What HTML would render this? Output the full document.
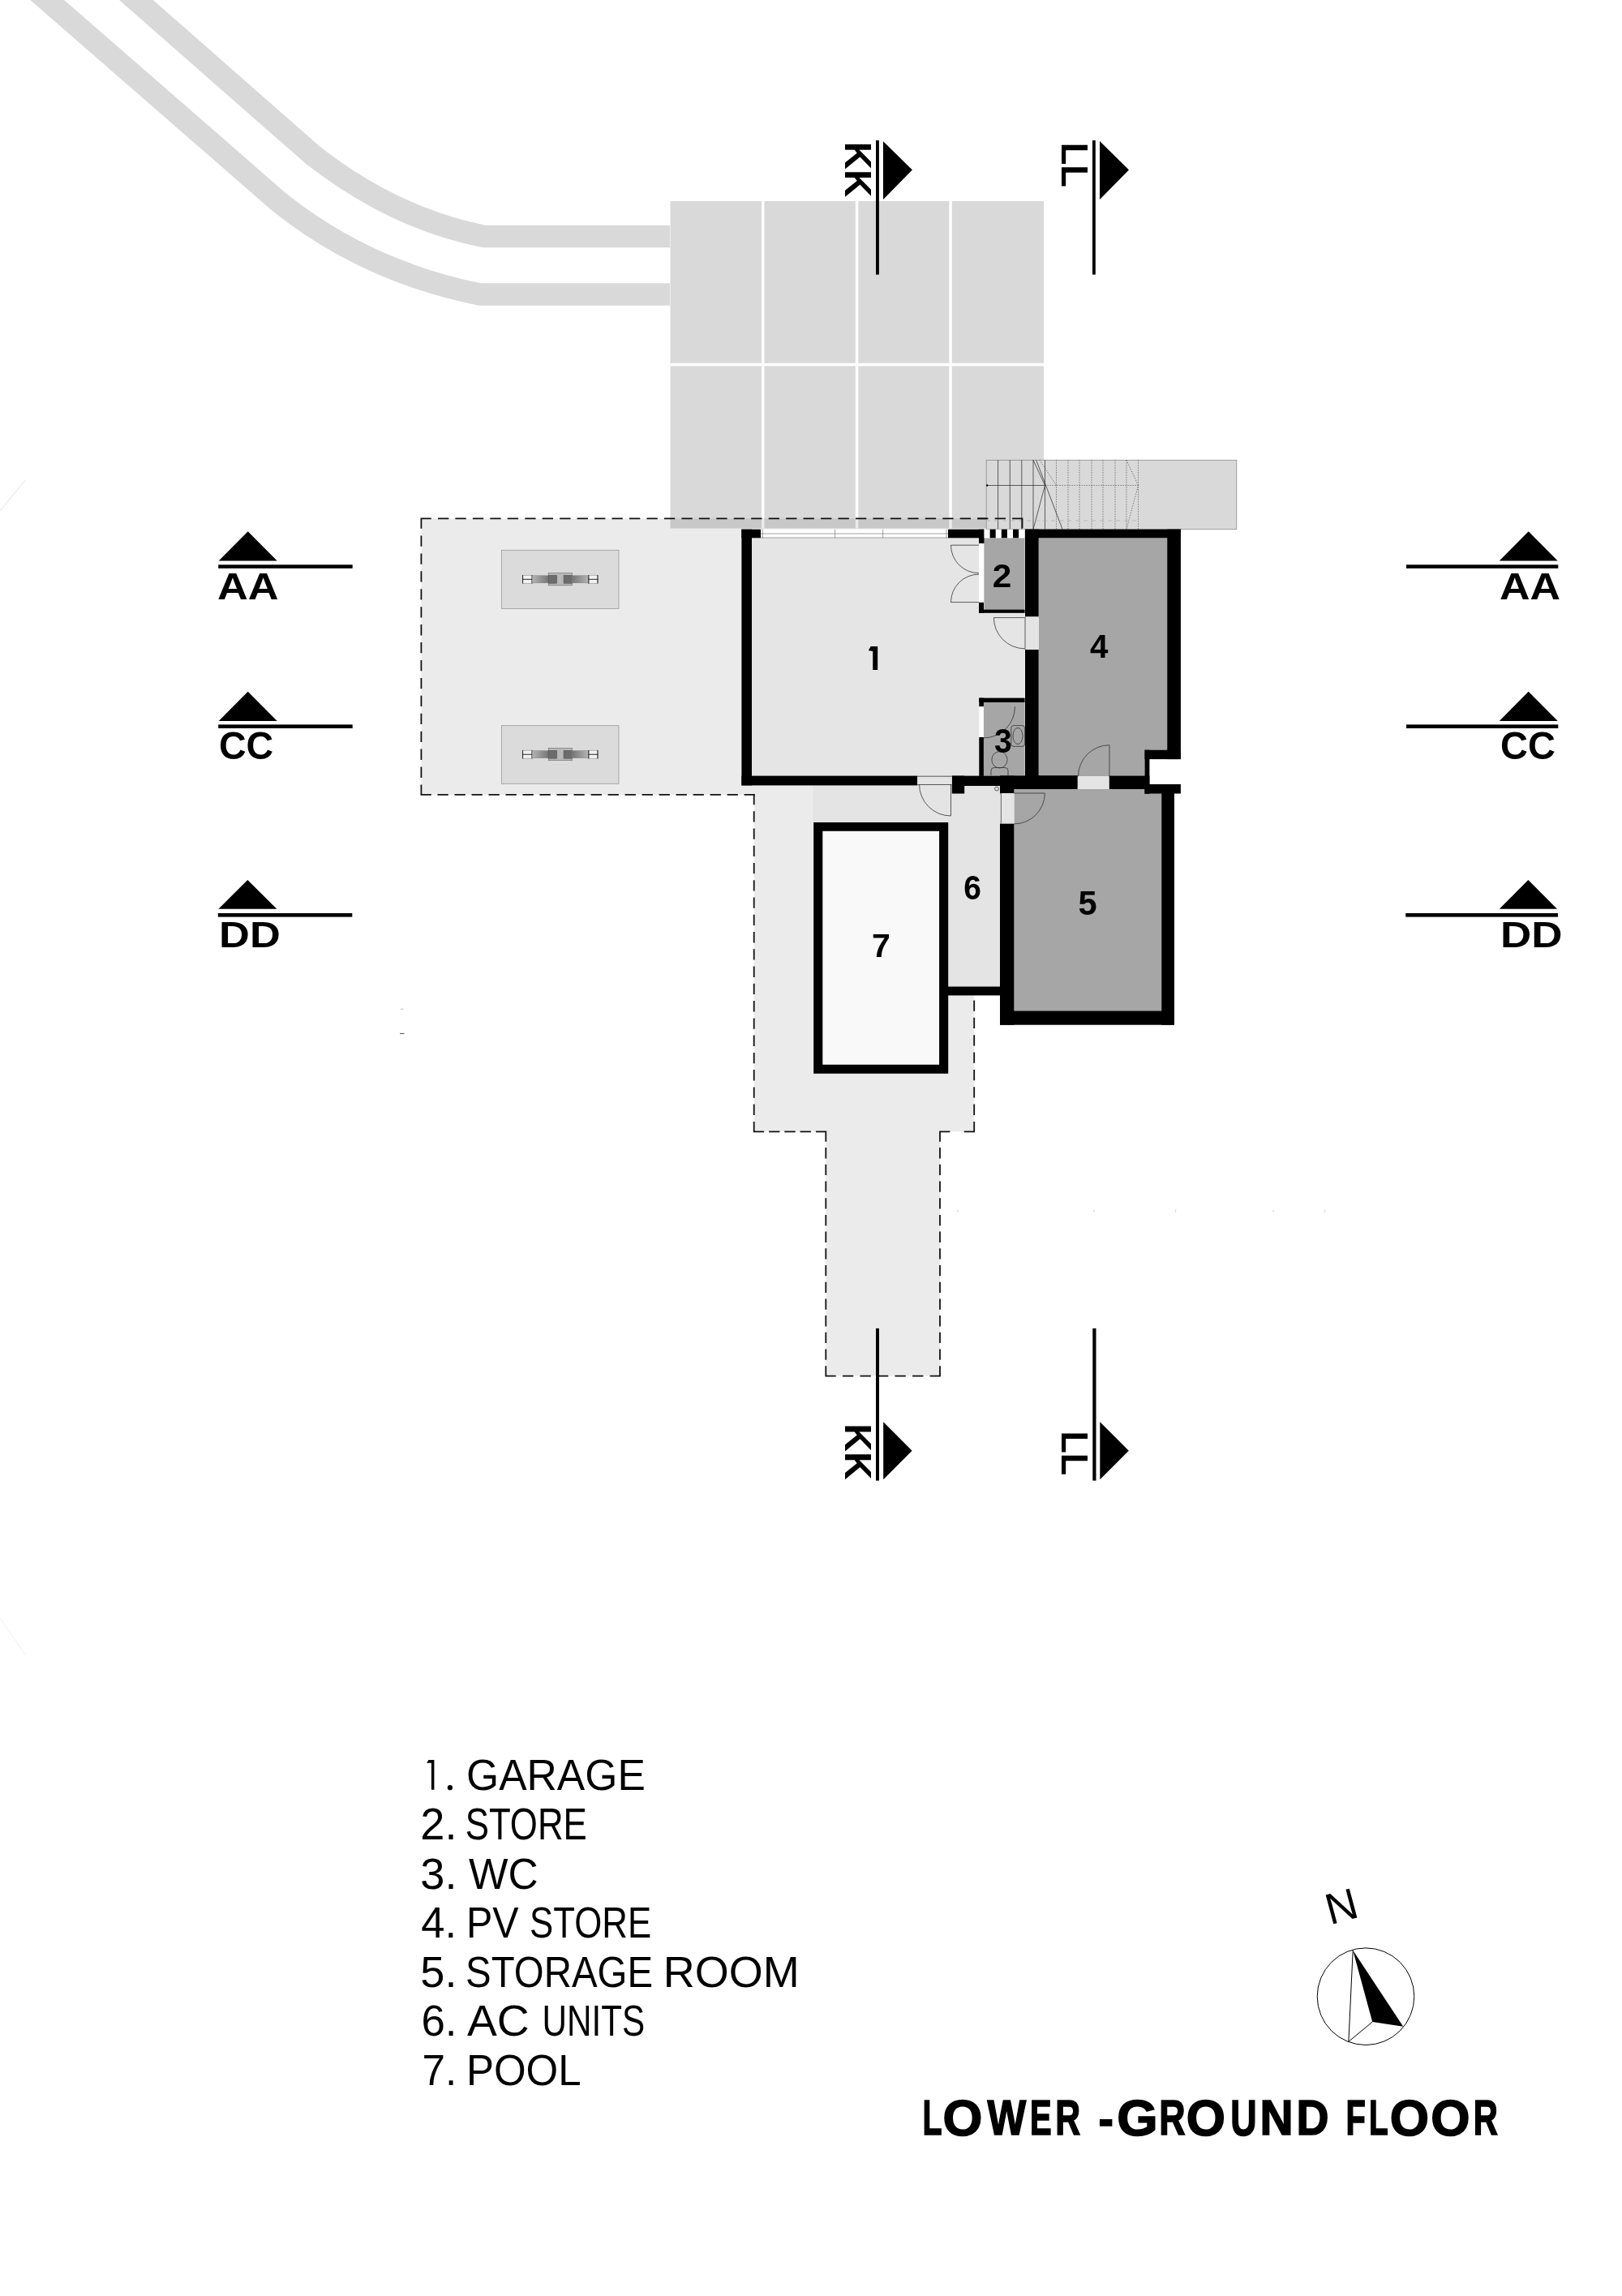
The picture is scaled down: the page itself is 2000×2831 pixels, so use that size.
<!DOCTYPE html>
<html><head><meta charset="utf-8"><style>
html,body{margin:0;padding:0;background:#fff;}
body{width:2000px;height:2831px;overflow:hidden;}
svg{display:block;}
text{font-family:"Liberation Sans",sans-serif;}
</style></head>
<body>
<svg width="2000" height="2831" viewBox="0 0 2000 2831">
<rect x="0" y="0" width="2000" height="2831" fill="#fff"/>

<!-- driveway bands -->
<g fill="none" stroke="#d9d9d9" stroke-width="27.5">
<path d="M128,-35 L386,191.5 Q485.7,269.3 597,291.5 L826,291.5"/>
<path d="M18,-35 L344,249 Q451.3,334.8 592,363 L826,363"/>
</g>

<!-- grid block -->
<rect x="826.5" y="248" width="460.5" height="403.5" fill="#d9d9d9"/>
<g fill="#fff">
<rect x="939" y="248" width="3.5" height="403.5"/>
<rect x="1054.8" y="248" width="3.5" height="403.5"/>
<rect x="1170.3" y="248" width="3.5" height="403.5"/>
<rect x="826.5" y="447.8" width="460.5" height="3.5"/>
</g>

<!-- paved dashed area fill -->
<g fill="#ebebeb" style="mix-blend-mode:multiply">
<rect x="519.4" y="639.4" width="740.6" height="340.5"/>
</g>
<g fill="#ebebeb">
<rect x="930" y="979" width="271.2" height="416.3"/>
<rect x="1018.3" y="1395" width="140.7" height="301.6"/>
</g>
<!-- darker terrace -->
<rect x="1002.5" y="968" width="231" height="46" fill="#e4e4e4"/>
<rect x="1169" y="968" width="64" height="250" fill="#e4e4e4"/>

<!-- dashed outlines -->
<path fill="none" stroke="#111" stroke-width="1.8" stroke-linecap="square" d="M1260.5,639.4H1249.0M1239.0,639.4H1227.5M1217.6,639.4H1206.1M1196.1,639.4H1184.6M1174.7,639.4H1163.2M1153.2,639.4H1141.7M1131.7,639.4H1120.2M1110.3,639.4H1098.8M1088.8,639.4H1077.3M1067.4,639.4H1055.9M1045.9,639.4H1034.4M1024.5,639.4H1013.0M1003.0,639.4H991.5M981.5,639.4H970.0M960.1,639.4H948.6M938.6,639.4H927.1M917.2,639.4H905.7M895.7,639.4H884.2M874.2,639.4H862.7M852.8,639.4H841.3M831.3,639.4H819.8M809.9,639.4H798.4M788.4,639.4H776.9M766.9,639.4H755.4M745.5,639.4H734.0M724.0,639.4H712.5M702.6,639.4H691.1M681.1,639.4H669.6M659.7,639.4H648.2M638.2,639.4H626.7M616.7,639.4H605.2M595.3,639.4H583.8M573.8,639.4H562.3M552.4,639.4H540.9M530.9,639.4H519.4M519.4,639.4V650.9M519.4,661.3V672.8M519.4,683.3V694.8M519.4,705.2V716.7M519.4,727.1V738.6M519.4,749.1V760.6M519.4,771.0V782.5M519.4,792.9V804.4M519.4,814.9V826.4M519.4,836.8V848.3M519.4,858.7V870.2M519.4,880.7V892.2M519.4,902.6V914.1M519.4,924.5V936.0M519.4,946.5V958.0M519.4,968.4V979.9M519.4,979.9H530.9M540.4,979.9H551.9M561.4,979.9H572.9M582.4,979.9H593.9M603.4,979.9H614.9M624.4,979.9H635.9M645.4,979.9H656.9M666.4,979.9H677.9M687.4,979.9H698.9M708.4,979.9H719.9M729.5,979.9H741.0M750.5,979.9H762.0M771.5,979.9H783.0M792.5,979.9H804.0M813.5,979.9H825.0M834.5,979.9H846.0M855.5,979.9H867.0M876.5,979.9H888.0M897.5,979.9H909.0M918.5,979.9H930.0M929.7,979.9V991.4M929.7,1001.2V1012.7M929.7,1022.4V1033.9M929.7,1043.7V1055.2M929.7,1064.9V1076.4M929.7,1086.2V1097.7M929.7,1107.4V1118.9M929.7,1128.7V1140.2M929.7,1150.0V1161.5M929.7,1171.2V1182.7M929.7,1192.5V1204.0M929.7,1213.7V1225.2M929.7,1235.0V1246.5M929.7,1256.3V1267.8M929.7,1277.5V1289.0M929.7,1298.8V1310.3M929.7,1320.0V1331.5M929.7,1341.3V1352.8M929.7,1362.5V1374.0M929.7,1383.8V1395.3M929.7,1395.3H941.2M949.0,1395.3H960.5M968.2,1395.3H979.8M987.5,1395.3H999.0M1006.8,1395.3H1018.3M1018.3,1395.3V1406.8M1018.3,1416.0V1427.5M1018.3,1436.7V1448.2M1018.3,1457.4V1468.9M1018.3,1478.1V1489.6M1018.3,1498.8V1510.3M1018.3,1519.5V1531.0M1018.3,1540.2V1551.7M1018.3,1560.9V1572.4M1018.3,1581.6V1593.1M1018.3,1602.3V1613.8M1018.3,1623.0V1634.5M1018.3,1643.7V1655.2M1018.3,1664.4V1675.9M1018.3,1685.1V1696.6M1018.3,1696.6H1029.8M1039.8,1696.6H1051.3M1061.4,1696.6H1072.9M1082.9,1696.6H1094.4M1104.4,1696.6H1115.9M1126.0,1696.6H1137.5M1147.5,1696.6H1159.0M1159,1696.6V1685.1M1159,1675.9V1664.4M1159,1655.2V1643.7M1159,1634.5V1623.0M1159,1613.8V1602.3M1159,1593.1V1581.6M1159,1572.4V1560.9M1159,1551.7V1540.2M1159,1531.0V1519.5M1159,1510.3V1498.8M1159,1489.6V1478.1M1159,1468.9V1457.4M1159,1448.2V1436.7M1159,1427.5V1416.0M1159,1406.8V1395.3M1159.0,1395.3H1170.5M1189.7,1395.3H1201.2M1201.2,1395.3V1383.8M1201.2,1374.0V1362.5M1201.2,1352.6V1341.1M1201.2,1331.3V1319.8M1201.2,1309.9V1298.4M1201.2,1288.6V1277.1M1201.2,1267.2V1255.7M1201.2,1245.9V1234.4"/>

<!-- cars -->
<g id="car1">
<rect x="618.5" y="678.3" width="144.5" height="72.1" fill="#dbdbdb" stroke="#9a9a9a" stroke-width="0.8"/>
</g>
<rect x="618.5" y="894.7" width="144.5" height="71.6" fill="#dbdbdb" stroke="#9a9a9a" stroke-width="0.8"/>
<defs><linearGradient id="gl" x1="0" x2="1"><stop offset="0" stop-color="#b4b4b4"/><stop offset="1" stop-color="#767676"/></linearGradient><linearGradient id="gr" x1="0" x2="1"><stop offset="0" stop-color="#767676"/><stop offset="1" stop-color="#b4b4b4"/></linearGradient></defs>
<g>
<rect x="644.3" y="709.3" width="11.9" height="10" fill="#f2f2f2" stroke="#9a9a9a" stroke-width="0.7"/>
<path d="M644.6,709.0999999999999V719.5M656,709.0999999999999V719.5M644.3,714.3H656.2" stroke="#111" stroke-width="0.9"/>
<rect x="656.2" y="709.8" width="20" height="9" fill="url(#gl)" stroke="#808080" stroke-width="0.5"/>
<rect x="676.2" y="706.5999999999999" width="29.1" height="15.2" fill="#b9b9b9" stroke="#6a6a6a" stroke-width="0.6"/>
<rect x="676.2" y="709.3" width="10.5" height="10" fill="#6c6c6c" stroke="#444" stroke-width="0.4"/>
<rect x="695" y="709.3" width="10.3" height="10" fill="#6c6c6c" stroke="#444" stroke-width="0.4"/>
<rect x="705.3" y="709.8" width="20.3" height="9" fill="url(#gr)" stroke="#808080" stroke-width="0.5"/>
<rect x="725.6" y="709.3" width="11.6" height="10" fill="#f2f2f2" stroke="#9a9a9a" stroke-width="0.7"/>
<path d="M725.9,709.0999999999999V719.5M736.9,709.0999999999999V719.5M725.6,714.3H737.2" stroke="#111" stroke-width="0.9"/>
</g>
<g>
<rect x="644.3" y="925.2" width="11.9" height="10" fill="#f2f2f2" stroke="#9a9a9a" stroke-width="0.7"/>
<path d="M644.6,925.0V935.4000000000001M656,925.0V935.4000000000001M644.3,930.2H656.2" stroke="#111" stroke-width="0.9"/>
<rect x="656.2" y="925.7" width="20" height="9" fill="url(#gl)" stroke="#808080" stroke-width="0.5"/>
<rect x="676.2" y="922.5" width="29.1" height="15.2" fill="#b9b9b9" stroke="#6a6a6a" stroke-width="0.6"/>
<rect x="676.2" y="925.2" width="10.5" height="10" fill="#6c6c6c" stroke="#444" stroke-width="0.4"/>
<rect x="695" y="925.2" width="10.3" height="10" fill="#6c6c6c" stroke="#444" stroke-width="0.4"/>
<rect x="705.3" y="925.7" width="20.3" height="9" fill="url(#gr)" stroke="#808080" stroke-width="0.5"/>
<rect x="725.6" y="925.2" width="11.6" height="10" fill="#f2f2f2" stroke="#9a9a9a" stroke-width="0.7"/>
<path d="M725.9,925.0V935.4000000000001M736.9,925.0V935.4000000000001M725.6,930.2H737.2" stroke="#111" stroke-width="0.9"/>
</g>

<!-- stairs -->
<g>
<rect x="1216.2" y="567.3" width="308.6" height="85.2" fill="#d9d9d9" stroke="#8a8a8a" stroke-width="0.8"/>
<g stroke="#222" stroke-width="0.7" fill="none">
<path d="M1230.6,567.3 V652.5 M1245.3,567.3 V652.5 M1259.8,567.3 V652.5 M1274,567.3 V652.5 M1288.5,567.3 V652.5 M1216.2,598.5 H1288.5"/>
<path d="M1274,567.3 L1288.5,598.5 L1274,652.5 M1277.7,567.3 L1310,652.5"/>
</g>
<circle cx="1217.2" cy="598.5" r="1.2" fill="#000"/>
<g stroke="#333" stroke-width="0.7" fill="none" stroke-dasharray="1.2 1.8">
<path d="M1302.5,567.3 V652.5 M1317,567.3 V652.5 M1331,567.3 V652.5 M1346,567.3 V652.5 M1360,567.3 V652.5 M1375,567.3 V652.5 M1389,567.3 V652.5 M1403.5,567.3 V652.5 M1288.5,598.5 H1403.5"/>
<path d="M1282,567.3 L1302.5,598.5 M1389,567.3 L1403.5,598.5 L1389,652.5"/>
</g>
<path d="M1216.2,642 H1403.5" stroke="#b0b0b0" stroke-width="0.8" stroke-dasharray="5 5" fill="none"/>
</g>

<path fill="none" stroke="#111" stroke-width="1.8" stroke-linecap="square" d="M1206.1,639.4H1217.6M1227.6,639.4H1239.1M1249,639.4H1260.5V650.5"/>
<path d="M493,1274.4H498.5" stroke="#333" stroke-width="0.9"/>
<path d="M494,1244.3H497" stroke="#aaa" stroke-width="0.8"/>
<path d="M1181,1492V1495M1349,1492V1495M1449.7,1491V1495M1570,1492V1495M1633.7,1491V1495" stroke="#c8c8c8" stroke-width="0.8"/>
<!-- BUILDING -->
<!-- room fills -->
<rect x="927" y="663.3" width="336.6" height="293.3" fill="#e5e5e5"/>
<rect x="1213.5" y="663.3" width="50.1" height="88.3" fill="#a6a6a6"/>
<rect x="1212.9" y="866" width="50.7" height="90.6" fill="#a6a6a6"/>
<path d="M1280.7,663.3 H1439.2 V924.7 H1411.5 V957.2 H1280.7 Z" fill="#a6a6a6"/>
<rect x="1250.4" y="973" width="181.8" height="273.4" fill="#a6a6a6"/>
<rect x="1014.3" y="1024.7" width="143.8" height="288" fill="#f9f9f9"/>

<!-- walls -->
<g fill="#000">
<!-- garage -->
<rect x="914.4" y="652.7" width="12.6" height="315.7"/>
<rect x="914.4" y="652.7" width="23.8" height="10.6"/>
<rect x="1169" y="652.7" width="44.5" height="10.6"/>
<rect x="1207" y="652.7" width="6.5" height="17.3"/>
<rect x="914.4" y="956.6" width="216.8" height="11.8"/>
<!-- room 2 -->
<rect x="1207" y="742.6" width="6" height="13.2"/>
<rect x="1207" y="751.6" width="56.6" height="4.2"/>
<!-- wc -->
<rect x="1207.3" y="860.6" width="56.3" height="5.4"/>
<rect x="1207.3" y="860.6" width="5.6" height="10.7"/>
<rect x="1207.3" y="908.9" width="5.6" height="48"/>
<!-- room 4 -->
<rect x="1263.6" y="652.7" width="192.3" height="10.6"/>
<rect x="1264" y="652.7" width="16.7" height="107.8"/>
<rect x="1264" y="801" width="16.7" height="172"/>
<rect x="1439.2" y="652.7" width="16.7" height="283.4"/>
<rect x="1411.5" y="924.7" width="44.4" height="11.4"/>
<rect x="1411.5" y="924.7" width="5.9" height="54"/>
<!-- wall between 4/5 -->
<rect x="1173.8" y="956.6" width="155" height="12.4"/>
<rect x="1367.5" y="956.6" width="49.9" height="16.4"/>
<rect x="1280.7" y="956.6" width="48" height="16.4"/>
<rect x="1173.8" y="956.6" width="15.4" height="21.9"/>
<rect x="1233" y="956.6" width="17.4" height="21.6"/>
<rect x="1233" y="956.6" width="95.7" height="16.4"/>
<rect x="1411.5" y="967" width="44.4" height="11.5"/>
<!-- room 5 -->
<rect x="1233" y="1015.4" width="17.4" height="248.3"/>
<rect x="1432.2" y="967" width="15.8" height="296.7"/>
<rect x="1233" y="1246.4" width="214.7" height="17.3"/>
<!-- room 6 bottom -->
<rect x="1169" y="1216.5" width="64" height="10.9"/>
<!-- pool -->
<path d="M1003.2,1014 H1169.2 V1323.8 H1003.2 Z M1014.3,1024.7 V1312.7 H1158.1 V1024.7 Z" fill-rule="evenodd"/>
</g>

<!-- window -->
<rect x="938.2" y="652.7" width="230.8" height="10.6" fill="#fff"/>
<g stroke="#777" stroke-width="0.7" fill="none">
<path d="M938.2,658 H1169 M938.2,663 H1169 M940.3,652.7 V663.3 M1029.6,652.7 V663.3 M1088.6,652.7 V663.3 M1167,652.7 V663.3"/>
</g>
<!-- checker -->
<rect x="1213.5" y="652.7" width="50.1" height="10.6" fill="#fff"/>
<g fill="#000">
<rect x="1220.6" y="652.7" width="7.1" height="10.6"/>
<rect x="1234.8" y="652.7" width="7.1" height="10.6"/>
<rect x="1249" y="652.7" width="7.1" height="10.6"/>
</g>
<!-- room2 left opening -->
<rect x="1207" y="670" width="6" height="72.6" fill="#fff"/>
<rect x="1207.3" y="871.3" width="5.6" height="37.6" fill="#fff"/>

<!-- door openings -->
<rect x="1264" y="760.5" width="16.7" height="40.5" fill="#e4e4e4"/>
<rect x="1131.2" y="956.6" width="42.6" height="11.8" fill="#e4e4e4"/>
<rect x="1328.7" y="957.2" width="38.8" height="15.8" fill="#e4e4e4"/>
<rect x="1234" y="978" width="16.4" height="37.4" fill="#e4e4e4"/>
<g stroke="#333" stroke-width="0.8" fill="none">
<path d="M1172.5,672.2 H1207 M1172.5,672.2 A34.5,34.5 0 0 0 1207,706.7"/>
<path d="M1172.5,742.6 H1207 M1172.5,742.6 A34.5,34.5 0 0 1 1207,708.1"/>
<path d="M1225.4,761.6 H1263.6 M1225.4,761.6 A38.2,38.2 0 0 0 1263.6,799.8 M1264,760.5 V801"/>
<path d="M1251.5,871.3 A38.6,38.6 0 0 1 1212.9,909.9"/>
<path d="M1368,918.7 V957.2 M1329.5,957.2 A38.5,38.5 0 0 1 1368,918.7"/>
<path d="M1172.5,967 V1006 M1133.5,967 A39,39 0 0 0 1172.5,1006 M1131.2,957.2 H1173.8 M1131.2,967.5 H1173.8"/>
<path d="M1250.4,978 H1288.3 A37.9,37.9 0 0 1 1250.4,1015.9 M1234.3,978 V1015.4"/>
<circle cx="1229" cy="972.6" r="2.4"/>
<rect x="1246.8" y="894.6" width="16.8" height="25.7" rx="3"/>
<ellipse cx="1255" cy="907.5" rx="6" ry="10"/>
<ellipse cx="1232.5" cy="936.8" rx="9.6" ry="10.2"/>
<path d="M1222,956 V950 Q1222,946.5 1226,946.5 H1239 Q1243,946.5 1243,950 V956"/>
</g>
<path d="M0,630 L31,592" stroke="#ececec" stroke-width="1.2"/>
<path d="M0,1995 L31,2040" stroke="#ededed" stroke-width="0.8"/>
<path d="M1073.69,797.03 H1082.17 V825.98 H1076.25 V802.95 L1070.83,801.96 Z" fill="#000"/>
<g fill="#000">
<text x="1223.80" y="723.90" font-size="41.06" font-weight="bold" textLength="23.61" lengthAdjust="spacingAndGlyphs">2</text>
<text x="1226.00" y="927.50" font-size="43.06" font-weight="bold" textLength="21.80" lengthAdjust="spacingAndGlyphs">3</text>
<text x="1344.00" y="810.50" font-size="41.46" font-weight="bold" textLength="22.39" lengthAdjust="spacingAndGlyphs">4</text>
<text x="1329.60" y="1127.90" font-size="42.04" font-weight="bold" textLength="23.15" lengthAdjust="spacingAndGlyphs">5</text>
<text x="1188.20" y="1108.60" font-size="41.59" font-weight="bold" textLength="21.66" lengthAdjust="spacingAndGlyphs">6</text>
<text x="1075.00" y="1180.10" font-size="41.06" font-weight="bold" textLength="22.85" lengthAdjust="spacingAndGlyphs">7</text>
</g>
<!-- section markers -->
<g fill="#000">
<!-- left -->
<path d="M305.7,655.3 L341.7,691.5 H269.7 Z"/>
<rect x="269.2" y="696.3" width="165.5" height="4.5"/>
<path d="M305.7,852.7 L341.7,888.9 H269.7 Z"/>
<rect x="269.2" y="893.4" width="165.5" height="4.6"/>
<path d="M305.3,1085 L341.3,1120.8 H269.4 Z"/>
<rect x="268.8" y="1126" width="165.5" height="4.6"/>
<!-- right -->
<path d="M1884.7,655.3 L1920.7,691.5 H1848.8 Z"/>
<rect x="1734" y="696.3" width="187.3" height="4.5"/>
<path d="M1884.7,852.7 L1920.7,888.9 H1848.8 Z"/>
<rect x="1734" y="893.4" width="187.3" height="4.6"/>
<path d="M1884.4,1085 L1920,1120.8 H1848.8 Z"/>
<rect x="1733.2" y="1126" width="187.8" height="4.6"/>
<!-- KK / LL top -->
<rect x="1080" y="173.1" width="3.9" height="165.5"/>
<path d="M1089,174.2 L1124.9,209.6 L1089,245.9 Z"/>
<rect x="1347" y="173.1" width="3.8" height="165.5"/>
<path d="M1356,174 L1392,209.6 L1356,245.9 Z"/>
<!-- KK / LL bottom -->
<rect x="1080" y="1637.9" width="4" height="187.7"/>
<path d="M1089.2,1753.3 L1124.6,1788.7 L1089.2,1824.2 Z"/>
<rect x="1347.3" y="1637.9" width="4.2" height="187.7"/>
<path d="M1356.3,1753.3 L1391.8,1788.7 L1356.3,1824.2 Z"/>
</g>
<g fill="#000">
<text x="267.90" y="738.90" font-size="46.51" font-weight="bold" textLength="75.55" lengthAdjust="spacingAndGlyphs">AA</text>
<text x="269.90" y="936.40" font-size="48.99" font-weight="bold" textLength="67.22" lengthAdjust="spacingAndGlyphs">CC</text>
<text x="270.10" y="1167.70" font-size="44.95" font-weight="bold" textLength="75.61" lengthAdjust="spacingAndGlyphs">DD</text>
<text x="1849.00" y="738.90" font-size="46.51" font-weight="bold" textLength="75.13" lengthAdjust="spacingAndGlyphs">AA</text>
<text x="1850.00" y="936.40" font-size="48.99" font-weight="bold" textLength="67.85" lengthAdjust="spacingAndGlyphs">CC</text>
<text x="1850.00" y="1167.70" font-size="44.95" font-weight="bold" textLength="76.48" lengthAdjust="spacingAndGlyphs">DD</text>
<text transform="translate(1042.00,174.70) rotate(90)" font-size="46.51" font-weight="bold" textLength="68.40" lengthAdjust="spacingAndGlyphs">KK</text>
<text transform="translate(1309.00,175.70) rotate(90)" font-size="46.51" font-weight="bold" textLength="55.14" lengthAdjust="spacingAndGlyphs">LL</text>
<text transform="translate(1042.00,1755.20) rotate(90)" font-size="46.51" font-weight="bold" textLength="69.40" lengthAdjust="spacingAndGlyphs">KK</text>
<text transform="translate(1309.40,1764.40) rotate(90)" font-size="45.95" font-weight="bold" textLength="54.61" lengthAdjust="spacingAndGlyphs">LL</text>
</g>

<path d="M528.5,2170.1 H535.4 V2206.8 H531.9 V2173.8 H526.1 Z" fill="#000"/>
<circle cx="554.9" cy="2204.2" r="3.1" fill="#000"/>
<!-- legend -->
<g fill="#000">
<text x="575.00" y="2207.00" font-size="53.36" textLength="220.81" lengthAdjust="spacingAndGlyphs">GARAGE</text>
<text x="518.30" y="2267.70" font-size="55.11" textLength="45.14" lengthAdjust="spacingAndGlyphs">2.</text>
<text x="573.70" y="2267.70" font-size="55.11" textLength="150.11" lengthAdjust="spacingAndGlyphs">STORE</text>
<text x="518.30" y="2328.90" font-size="54.53" textLength="45.14" lengthAdjust="spacingAndGlyphs">3.</text>
<text x="578.00" y="2328.90" font-size="54.53" textLength="85.57" lengthAdjust="spacingAndGlyphs">WC</text>
<text x="519.30" y="2389.30" font-size="53.66" textLength="43.73" lengthAdjust="spacingAndGlyphs">4.</text>
<text x="574.90" y="2389.30" font-size="53.66" textLength="64.62" lengthAdjust="spacingAndGlyphs">PV</text>
<text x="653.00" y="2389.30" font-size="53.70" textLength="150.11" lengthAdjust="spacingAndGlyphs">STORE</text>
<text x="518.30" y="2449.50" font-size="52.77" textLength="45.14" lengthAdjust="spacingAndGlyphs">5.</text>
<text x="574.00" y="2449.50" font-size="52.77" textLength="231.07" lengthAdjust="spacingAndGlyphs">STORAGE</text>
<text x="817.70" y="2449.50" font-size="52.77" textLength="168.06" lengthAdjust="spacingAndGlyphs">ROOM</text>
<text x="519.40" y="2510.40" font-size="54.38" textLength="44.08" lengthAdjust="spacingAndGlyphs">6.</text>
<text x="575.90" y="2510.40" font-size="54.38" textLength="76.73" lengthAdjust="spacingAndGlyphs">AC</text>
<text x="668.60" y="2510.40" font-size="54.38" textLength="126.64" lengthAdjust="spacingAndGlyphs">UNITS</text>
<text x="520.60" y="2571.30" font-size="52.77" textLength="42.63" lengthAdjust="spacingAndGlyphs">7.</text>
<text x="574.90" y="2571.30" font-size="52.77" textLength="141.76" lengthAdjust="spacingAndGlyphs">POOL</text>
</g>

<!-- north arrow -->
<circle cx="1684" cy="2461.7" r="59.8" fill="none" stroke="#000" stroke-width="1"/>
<path d="M1668.2,2404.8 L1692.2,2493 L1730.2,2498.8 Z" fill="#000"/>
<path d="M1668.2,2404.8 L1662.9,2517.3 L1692.2,2493" fill="none" stroke="#000" stroke-width="1"/>
<text transform="translate(1640,2373.5) rotate(-15)" font-size="54" fill="#000">N</text>

<!-- title -->
<g fill="#000">
<text x="1137.40" y="2632.20" font-size="60.99" font-weight="bold" stroke="#000" stroke-width="1.6" stroke-linejoin="miter" textLength="24.05" lengthAdjust="spacingAndGlyphs">L</text>
<text x="1162.50" y="2633.20" font-size="62.63" font-weight="bold" stroke="#000" stroke-width="1.6" stroke-linejoin="miter" textLength="48.86" lengthAdjust="spacingAndGlyphs">O</text>
<text x="1217.50" y="2632.20" font-size="60.99" font-weight="bold" stroke="#000" stroke-width="1.6" stroke-linejoin="miter" textLength="47.66" lengthAdjust="spacingAndGlyphs">W</text>
<text x="1270.10" y="2632.20" font-size="60.99" font-weight="bold" stroke="#000" stroke-width="1.6" stroke-linejoin="miter" textLength="26.68" lengthAdjust="spacingAndGlyphs">E</text>
<text x="1301.30" y="2632.20" font-size="60.99" font-weight="bold" stroke="#000" stroke-width="1.6" stroke-linejoin="miter" textLength="30.92" lengthAdjust="spacingAndGlyphs">R</text>
<text x="1354.50" y="2633.20" font-size="62.00" font-weight="bold" stroke="#000" stroke-width="1.6" stroke-linejoin="miter" textLength="18.40" lengthAdjust="spacingAndGlyphs">-</text>
<text x="1377.30" y="2633.20" font-size="62.63" font-weight="bold" stroke="#000" stroke-width="1.6" stroke-linejoin="miter" textLength="50.42" lengthAdjust="spacingAndGlyphs">G</text>
<text x="1429.20" y="2632.20" font-size="60.99" font-weight="bold" stroke="#000" stroke-width="1.6" stroke-linejoin="miter" textLength="32.36" lengthAdjust="spacingAndGlyphs">R</text>
<text x="1462.80" y="2633.20" font-size="62.63" font-weight="bold" stroke="#000" stroke-width="1.6" stroke-linejoin="miter" textLength="48.26" lengthAdjust="spacingAndGlyphs">O</text>
<text x="1517.30" y="2633.20" font-size="62.51" font-weight="bold" stroke="#000" stroke-width="1.6" stroke-linejoin="miter" textLength="32.38" lengthAdjust="spacingAndGlyphs">U</text>
<text x="1553.40" y="2632.20" font-size="60.99" font-weight="bold" stroke="#000" stroke-width="1.6" stroke-linejoin="miter" textLength="41.09" lengthAdjust="spacingAndGlyphs">N</text>
<text x="1598.40" y="2632.20" font-size="60.99" font-weight="bold" stroke="#000" stroke-width="1.6" stroke-linejoin="miter" textLength="40.01" lengthAdjust="spacingAndGlyphs">D</text>
<text x="1659.40" y="2632.20" font-size="60.99" font-weight="bold" stroke="#000" stroke-width="1.6" stroke-linejoin="miter" textLength="24.37" lengthAdjust="spacingAndGlyphs">F</text>
<text x="1688.10" y="2632.20" font-size="60.99" font-weight="bold" stroke="#000" stroke-width="1.6" stroke-linejoin="miter" textLength="23.66" lengthAdjust="spacingAndGlyphs">L</text>
<text x="1713.70" y="2633.20" font-size="62.63" font-weight="bold" stroke="#000" stroke-width="1.6" stroke-linejoin="miter" textLength="48.32" lengthAdjust="spacingAndGlyphs">O</text>
<text x="1764.30" y="2633.20" font-size="62.63" font-weight="bold" stroke="#000" stroke-width="1.6" stroke-linejoin="miter" textLength="48.34" lengthAdjust="spacingAndGlyphs">O</text>
<text x="1816.70" y="2632.20" font-size="60.99" font-weight="bold" stroke="#000" stroke-width="1.6" stroke-linejoin="miter" textLength="30.16" lengthAdjust="spacingAndGlyphs">R</text>
</g>

</svg>
</body></html>
